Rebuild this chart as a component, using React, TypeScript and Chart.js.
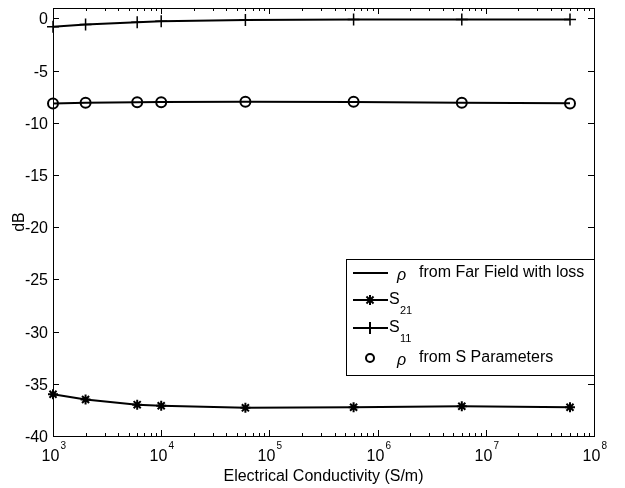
import { useEffect, useRef } from "react";
import { Chart, registerables } from "chart.js";
Chart.register(...registerables);

const conductivity = [1e3, 2e3, 6e3, 1e4, 6e4, 6e5, 6e6, 6e7];
const rhoFarField = [-8.14, -8.08, -8.02, -8.0, -7.99, -8.0, -8.07, -8.13];
const s21 = [-36.0, -36.5, -37.0, -37.1, -37.3, -37.25, -37.15, -37.25];
const s11 = [-0.8, -0.57, -0.36, -0.27, -0.15, -0.1, -0.1, -0.1];
const rhoSParams = [-8.14, -8.08, -8.02, -8.02, -7.99, -7.99, -8.08, -8.14];
const yTicks = [0, -5, -10, -15, -20, -25, -30, -35, -40];
const xDecades = [3, 4, 5, 6, 7, 8];
const xTitle = "Electrical Conductivity (S/m)";
const yTitle = "dB";

const FONT = "'Liberation Sans', Arial, sans-serif";

function drawStar(ctx: CanvasRenderingContext2D, x: number, y: number, r: number) {
  ctx.beginPath();
  for (let k = 0; k < 4; k++) {
    const a = (k * Math.PI) / 4;
    ctx.moveTo(x - r * Math.cos(a), y - r * Math.sin(a));
    ctx.lineTo(x + r * Math.cos(a), y + r * Math.sin(a));
  }
  ctx.stroke();
}

const axesPlugin = {
  id: "matlabAxes",
  afterDraw(chart: any) {
    const ctx = chart.ctx as CanvasRenderingContext2D;
    const { left, right, top, bottom } = chart.chartArea;
    const xs = chart.scales.x;
    const ys = chart.scales.y;
    ctx.save();
    ctx.strokeStyle = "#000";
    ctx.lineWidth = 1;
    ctx.strokeRect(Math.round(left) + 0.5, Math.round(top) + 0.5, Math.round(right - left), Math.round(bottom - top));
    ctx.fillStyle = "#000";
    ctx.font = `16px ${FONT}`;
    ctx.textAlign = "right";
    ctx.textBaseline = "middle";
    yTicks.forEach((v) => {
      const y = Math.round(ys.getPixelForValue(v)) + 0.5;
      ctx.beginPath();
      ctx.moveTo(left, y);
      ctx.lineTo(left + 6, y);
      ctx.moveTo(right, y);
      ctx.lineTo(right - 6, y);
      ctx.stroke();
      ctx.fillText(String(v), left - 5, y + 1);
    });
    xDecades.forEach((d, i) => {
      const x = Math.round(xs.getPixelForValue(Math.pow(10, d))) + 0.5;
      ctx.beginPath();
      ctx.moveTo(x, bottom);
      ctx.lineTo(x, bottom - 6);
      ctx.moveTo(x, top);
      ctx.lineTo(x, top + 6);
      ctx.stroke();
      if (i < xDecades.length - 1) {
        for (let m = 2; m <= 9; m++) {
          const xm = Math.round(xs.getPixelForValue(m * Math.pow(10, d))) + 0.5;
          ctx.beginPath();
          ctx.moveTo(xm, bottom);
          ctx.lineTo(xm, bottom - 3);
          ctx.moveTo(xm, top);
          ctx.lineTo(xm, top + 3);
          ctx.stroke();
        }
      }
      ctx.font = `16px ${FONT}`;
      ctx.textAlign = "center";
      ctx.textBaseline = "alphabetic";
      ctx.fillText("10", x - 3, bottom + 25);
      ctx.font = `10px ${FONT}`;
      ctx.textAlign = "left";
      ctx.fillText(String(d), x + 7, bottom + 13);
    });
    ctx.font = `16px ${FONT}`;
    ctx.textAlign = "center";
    ctx.textBaseline = "alphabetic";
    ctx.fillText(xTitle, (left + right) / 2, bottom + 45);
    ctx.save();
    ctx.translate(24, (top + bottom) / 2);
    ctx.rotate(-Math.PI / 2);
    ctx.fillText(yTitle, 0, 0);
    ctx.restore();

    // legend
    const lx = 346, ly = 259, lw = 248, lh = 116;
    ctx.fillStyle = "#fff";
    ctx.fillRect(lx, ly, lw, lh);
    ctx.lineWidth = 1;
    ctx.strokeStyle = "#000";
    ctx.strokeRect(lx + 0.5, ly + 0.5, lw, lh);
    const rows = [273, 300, 328, 358];
    const sx0 = 353, sx1 = 388, mx = 370;
    ctx.lineWidth = 2;
    ctx.beginPath(); ctx.moveTo(sx0, rows[0]); ctx.lineTo(sx1, rows[0]); ctx.stroke();
    ctx.beginPath(); ctx.moveTo(sx0, rows[1]); ctx.lineTo(sx1, rows[1]); ctx.stroke();
    drawStar(ctx, mx, rows[1], 5);
    ctx.beginPath(); ctx.moveTo(sx0, rows[2]); ctx.lineTo(sx1, rows[2]); ctx.stroke();
    ctx.beginPath();
    ctx.moveTo(mx, rows[2] - 6); ctx.lineTo(mx, rows[2] + 6); ctx.stroke();
    ctx.beginPath(); ctx.arc(mx, rows[3], 4, 0, Math.PI * 2); ctx.stroke();
    ctx.fillStyle = "#000";
    ctx.textAlign = "left";
    ctx.textBaseline = "middle";
    ctx.font = `italic 16px ${FONT}`;
    ctx.fillText("\u03C1", 397, rows[0] + 3);
    ctx.fillText("\u03C1", 397, rows[3] + 3);
    ctx.font = `16px ${FONT}`;
    ctx.fillText("from Far Field with loss", 419, rows[0]);
    ctx.fillText("from S Parameters", 419, rows[3]);
    ctx.fillText("S", 389, rows[1]);
    ctx.fillText("S", 389, rows[2]);
    ctx.font = `11px ${FONT}`;
    ctx.fillText("21", 400, rows[1] + 11);
    ctx.fillText("11", 400, rows[2] + 11);
    ctx.restore();
  },
};

export default function App() {
  const ref = useRef<HTMLCanvasElement | null>(null);
  useEffect(() => {
    document.body.style.margin = "0";
    const toPts = (arr: number[]) => conductivity.map((c, i) => ({ x: c, y: arr[i] }));
    const chart = new Chart(ref.current!, {
      type: "line",
      data: {
        datasets: [
          {
            label: "rho from Far Field with loss",
            data: toPts(rhoFarField),
            borderColor: "#000",
            borderWidth: 2,
            pointRadius: 0,
            tension: 0,
            clip: false as any,
          },
          {
            label: "S21",
            data: toPts(s21),
            borderColor: "#000",
            borderWidth: 2,
            pointStyle: "star",
            pointRadius: 5,
            pointBorderWidth: 2,
            pointBorderColor: "#000",
            pointBackgroundColor: "#000",
            clip: false as any,
          },
          {
            label: "S11",
            data: toPts(s11),
            borderColor: "#000",
            borderWidth: 2,
            pointStyle: "cross",
            pointRadius: 6,
            pointBorderWidth: 1.5,
            pointBorderColor: "#000",
            clip: false as any,
          },
          {
            label: "rho from S Parameters",
            data: toPts(rhoSParams),
            showLine: false,
            borderColor: "#000",
            pointStyle: "circle",
            pointRadius: 5,
            pointBorderWidth: 2,
            pointBorderColor: "#000",
            pointBackgroundColor: "rgba(0,0,0,0)",
            clip: false as any,
          },
        ],
      },
      options: {
        animation: false,
        responsive: false,
        events: [],
        layout: { padding: { left: 53, right: 31, top: 8, bottom: 52 } },
        plugins: { legend: { display: false }, tooltip: { enabled: false } },
        scales: {
          x: { type: "logarithmic", min: 1e3, max: 1e8, display: false },
          y: { type: "linear", min: -40, max: 1, display: false },
        },
      },
      plugins: [axesPlugin],
    });
    return () => chart.destroy();
  }, []);
  return (
    <canvas
      ref={ref}
      width={625}
      height={488}
      style={{ position: "absolute", left: 0, top: 0, width: 625, height: 488, background: "#fff" }}
    />
  );
}
